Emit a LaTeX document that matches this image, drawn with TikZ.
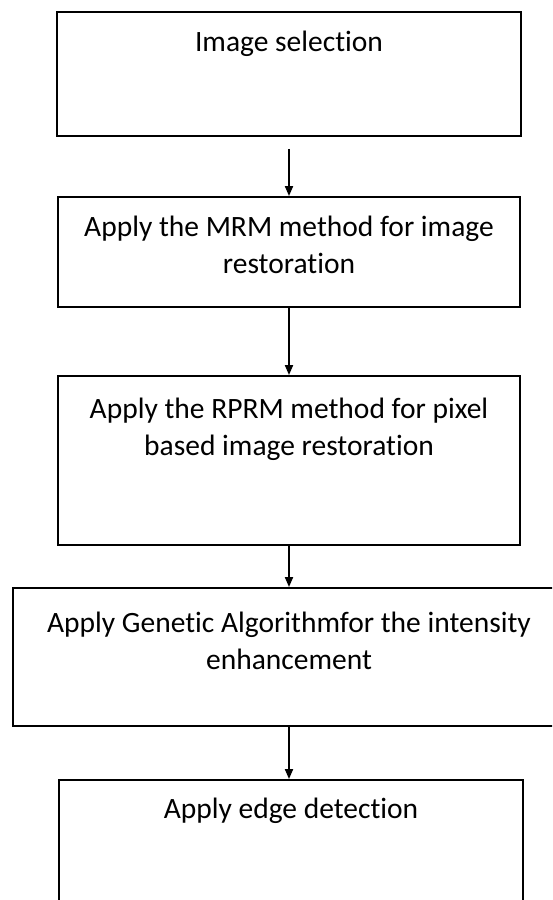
\documentclass[tikz,border=0pt]{standalone}
\usepackage{fontspec}
\setmainfont[Ligatures=NoCommon]{Carlito}
\usetikzlibrary{arrows,arrows.meta,positioning}

\begin{document}
\begin{tikzpicture}[x=1pt,y=-1pt,
  stepbox/.style={draw,line width=1.9pt,inner sep=0pt},
  steptext/.style={align=center,inner sep=0pt,anchor=north,
    font=\fontsize{29.5}{37}\selectfont},
  flow/.style={-{Triangle[length=10pt,width=8pt]},line width=1.9pt}]
\useasboundingbox (0,0) rectangle (552,900);
\clip (0,0) rectangle (552,900);

% boxes
\node[stepbox,minimum width=464pt,minimum height=124pt] (sel) at (289,74) {};
\node[stepbox,minimum width=462pt,minimum height=110pt] (mrm) at (289,252) {};
\node[stepbox,minimum width=462pt,minimum height=169pt] (rprm) at (289,460.5) {};
\node[stepbox,minimum width=552pt,minimum height=138pt] (ga) at (289,657) {};
\node[stepbox,minimum width=464pt,minimum height=140pt] (edge) at (291,850) {};

% texts
\node[steptext] (selt) at ([yshift=-20pt]sel.north) {Image selection};
\node[steptext] (mrmt) at ([yshift=-20pt]mrm.north) {Apply the MRM method for image\\restoration};
\node[steptext] (rprmt) at ([yshift=-23pt]rprm.north) {Apply the RPRM method for pixel\\based image restoration};
\node[steptext] (gat) at ([yshift=-25pt]ga.north) {Apply Genetic Algorithmfor the intensity\\enhancement};
\node[steptext] (edget) at ([yshift=-19pt]edge.north) {Apply edge detection};

% arrows
\draw[flow,shorten <=12pt] (sel.south -| mrm.north) -- (mrm.north);
\foreach \a/\b in {mrm/rprm,rprm/ga}
\draw[flow] (\a.south) -- (\b.north);
\draw[flow] (ga.south) -- (ga.south |- edge.north);
\end{tikzpicture}
\end{document}
